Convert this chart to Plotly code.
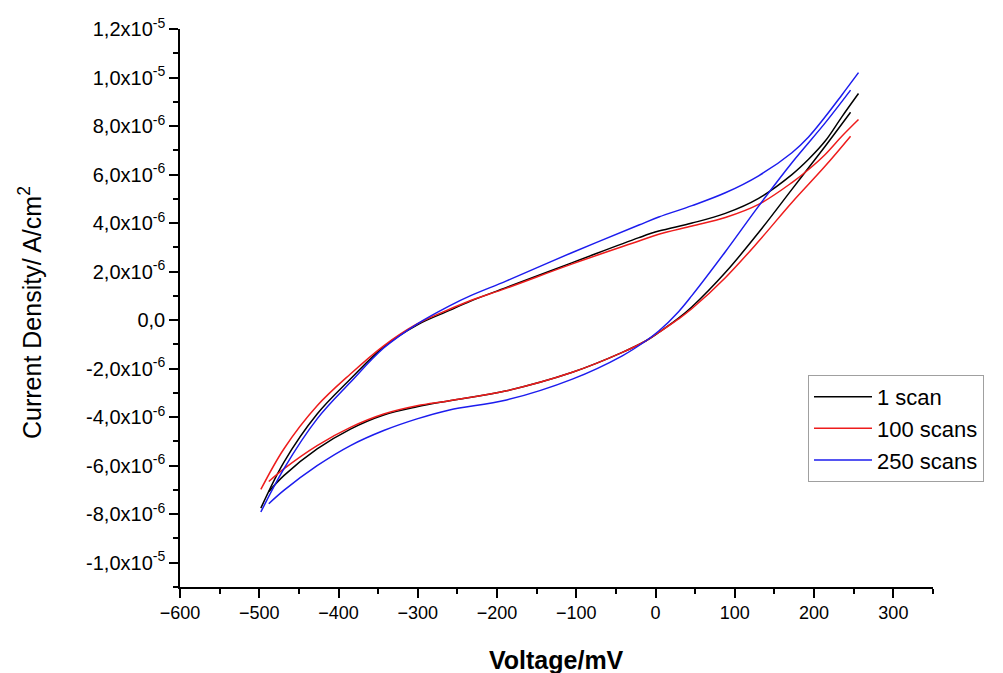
import numpy as np
import plotly.graph_objects as go

# Potentials (mV) for the forward (lower) and reverse (upper) branches
V_LOWER = [-488, -469, -427, -385, -343, -301, -260, -188, -105, -42, -12, 4, 29, 46, 88, 130, 172, 214, 246]
V_UPPER = [256, 235, 214, 193, 172, 130, 88, 46, 4, -21, -105, -188, -234, -260, -301, -343, -385, -427, -469, -498]

# Current density in units of 1e-6 A/cm2
SCAN1_LOWER = [-7.07, -6.41, -5.31, -4.49, -3.91, -3.57, -3.32, -2.91, -2.15, -1.33, -0.85, -0.51, 0.08, 0.55, 1.96, 3.61, 5.39, 7.17, 8.57]
SCAN1_UPPER = [9.34, 8.38, 7.38, 6.63, 6.00, 5.02, 4.40, 4.00, 3.67, 3.40, 2.37, 1.35, 0.78, 0.40, -0.20, -1.10, -2.43, -3.87, -5.86, -7.75]

SCAN100_LOWER = [-6.65, -6.13, -5.17, -4.42, -3.87, -3.53, -3.32, -2.91, -2.15, -1.33, -0.85, -0.51, 0.05, 0.48, 1.75, 3.25, 4.85, 6.35, 7.58]
SCAN100_UPPER = [8.27, 7.58, 6.83, 6.21, 5.67, 4.77, 4.23, 3.88, 3.54, 3.26, 2.32, 1.32, 0.80, 0.45, -0.16, -1.06, -2.22, -3.53, -5.31, -6.98]

SCAN250_LOWER = [-7.57, -7.02, -6.00, -5.17, -4.55, -4.07, -3.70, -3.29, -2.43, -1.47, -0.85, -0.45, 0.35, 1.02, 2.82, 4.70, 6.49, 8.13, 9.48]
SCAN250_UPPER = [10.2, 9.28, 8.38, 7.55, 6.90, 5.95, 5.25, 4.72, 4.25, 3.92, 2.79, 1.62, 1.00, 0.59, -0.16, -1.15, -2.56, -4.07, -6.13, -7.91]

SERIES_NAMES = ["1 scan", "100 scans", "250 scans"]
SERIES_COLORS = ["#000000", "#ee1c1c", "#1c1cee"]

Y_TICK_VALUES = [-1.0e-5, -8e-6, -6e-6, -4e-6, -2e-6, 0.0, 2e-6, 4e-6, 6e-6, 8e-6, 1.0e-5, 1.2e-5]
Y_TICK_TEXT = ["-1,0x10<sup>-5</sup>", "-8,0x10<sup>-6</sup>", "-6,0x10<sup>-6</sup>", "-4,0x10<sup>-6</sup>",
               "-2,0x10<sup>-6</sup>", "0,0", "2,0x10<sup>-6</sup>", "4,0x10<sup>-6</sup>",
               "6,0x10<sup>-6</sup>", "8,0x10<sup>-6</sup>", "1,0x10<sup>-5</sup>", "1,2x10<sup>-5</sup>"]
X_TICK_VALUES = [-600, -500, -400, -300, -200, -100, 0, 100, 200, 300]

series = [
    (SCAN1_LOWER, SCAN1_UPPER),
    (SCAN100_LOWER, SCAN100_UPPER),
    (SCAN250_LOWER, SCAN250_UPPER),
]

fig = go.Figure()
for (low, up), name, color in zip(series, SERIES_NAMES, SERIES_COLORS):
    xs = list(V_LOWER) + [None] + list(V_UPPER)
    ys = list(np.array(low) * 1e-6) + [None] + list(np.array(up) * 1e-6)
    fig.add_trace(go.Scatter(
        x=xs, y=ys, mode="lines", name=name,
        line=dict(color=color, width=1.5, shape="spline", smoothing=1.0),
        connectgaps=False,
    ))

FONT = "Arial, Liberation Sans, sans-serif"

fig.update_layout(
    width=1003, height=673,
    margin=dict(l=180, r=70, t=29, b=86),
    paper_bgcolor="white", plot_bgcolor="white",
    font=dict(family=FONT, color="black"),
    showlegend=True,
    legend=dict(
        x=0.834, y=0.38, xanchor="left", yanchor="top",
        bordercolor="#a0a0a0", borderwidth=1, bgcolor="white",
        font=dict(size=22, family=FONT, color="black"),
        itemwidth=58, tracegroupgap=0,
    ),
    xaxis=dict(
        range=[-600, 350], showgrid=False, zeroline=False,
        showline=True, linecolor="black", linewidth=1.5,
        ticks="outside", ticklen=9, tickwidth=1.5, tickcolor="black",
        tickvals=X_TICK_VALUES,
        tickfont=dict(size=18, family=FONT, color="black"),
        minor=dict(ticks="outside", ticklen=5, tickwidth=1.5, tickcolor="black", dtick=50, showgrid=False),
    ),
    yaxis=dict(
        range=[-1.1e-5, 1.2e-5], showgrid=False, zeroline=False,
        showline=True, linecolor="black", linewidth=1.5,
        ticks="outside", ticklen=9, tickwidth=1.5, tickcolor="black",
        tickvals=Y_TICK_VALUES, ticktext=Y_TICK_TEXT,
        tickfont=dict(size=20, family=FONT, color="black"),
        minor=dict(ticks="outside", ticklen=5, tickwidth=1.5, tickcolor="black", dtick=1e-6, showgrid=False),
    ),
    annotations=[
        dict(text="<b>Voltage/mV</b>", xref="paper", yref="paper", x=0.5, y=0,
             xanchor="center", yanchor="middle", yshift=-73, showarrow=False,
             font=dict(size=25, family=FONT, color="black")),
        dict(text="Current Density/ A/cm<sup>2</sup>", xref="paper", yref="paper", x=0, y=0.5,
             xanchor="center", yanchor="middle", xshift=-150, yshift=-5, textangle=-90, showarrow=False,
             font=dict(size=25, family=FONT, color="black")),
    ],
)

fig.write_html("out.html")
